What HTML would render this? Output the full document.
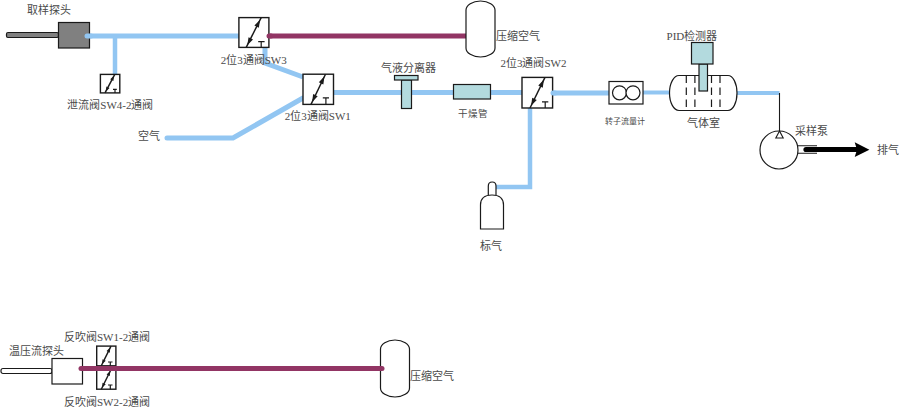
<!DOCTYPE html>
<html lang="zh-CN"><head><meta charset="utf-8">
<style>
html,body{margin:0;padding:0;background:#fff;width:899px;height:408px;overflow:hidden}
svg{display:block}
text{font-family:"Liberation Serif",serif;fill:#4a4a4a}
</style></head><body>
<svg width="899" height="408" viewBox="0 0 899 408">
<path d="M87 36 H238" fill="none" stroke="#92c6f2" stroke-width="5" stroke-linecap="round" stroke-linejoin="miter" />
<path d="M115 36 V74.5" fill="none" stroke="#92c6f2" stroke-width="4.5" stroke-linecap="butt" stroke-linejoin="miter" />
<path d="M265 47 V63 L303 77" fill="none" stroke="#92c6f2" stroke-width="5" stroke-linecap="butt" stroke-linejoin="miter" />
<path d="M167 138 H233 L303 98" fill="none" stroke="#92c6f2" stroke-width="5" stroke-linecap="round" stroke-linejoin="miter" />
<path d="M334 92.5 H522" fill="none" stroke="#92c6f2" stroke-width="5" stroke-linecap="butt" stroke-linejoin="miter" />
<path d="M553 93 H609" fill="none" stroke="#92c6f2" stroke-width="5" stroke-linecap="butt" stroke-linejoin="miter" />
<path d="M643 92.5 H669" fill="none" stroke="#92c6f2" stroke-width="4" stroke-linecap="butt" stroke-linejoin="miter" />
<path d="M737 93 H779.5" fill="none" stroke="#92c6f2" stroke-width="4" stroke-linecap="butt" stroke-linejoin="miter" />
<path d="M530 108 V187 H496" fill="none" stroke="#92c6f2" stroke-width="4.5" stroke-linecap="butt" stroke-linejoin="miter" />
<path d="M270 36 H466" fill="none" stroke="#923564" stroke-width="5" stroke-linecap="butt" stroke-linejoin="miter" />
<path d="M83 368.5 H382" fill="none" stroke="#923564" stroke-width="5" stroke-linecap="round" stroke-linejoin="miter" />
<rect x="6.5" y="32.5" width="52" height="5" rx="1.5" fill="#808080" stroke="#1a1a1a" stroke-width="1.2"/>
<rect x="58.5" y="22.5" width="31" height="25.5" fill="#808080" stroke="#1a1a1a" stroke-width="1.2"/>
<path d="M87 36 H91" fill="none" stroke="#92c6f2" stroke-width="5" stroke-linecap="round" stroke-linejoin="miter" />
<rect x="100.4" y="74.4" width="19.39999999999999" height="18.5" fill="#fff" stroke="#1a1a1a" stroke-width="1.4"/>
<rect x="238.9" y="17.6" width="29.99999999999997" height="29.799999999999997" fill="#fff" stroke="#1a1a1a" stroke-width="1.4"/>
<rect x="303" y="74.2" width="30.5" height="30.200000000000003" fill="#fff" stroke="#1a1a1a" stroke-width="1.4"/>
<rect x="522" y="77.4" width="30.600000000000023" height="30.599999999999994" fill="#fff" stroke="#1a1a1a" stroke-width="1.4"/>
<rect x="96.7" y="346.1" width="19.200000000000003" height="19.69999999999999" fill="#fff" stroke="#1a1a1a" stroke-width="1.4"/>
<rect x="96.7" y="369.5" width="19.200000000000003" height="19.69999999999999" fill="#fff" stroke="#1a1a1a" stroke-width="1.4"/>
<path d="M105 92.9 L114.8 74.4" stroke="#1a1a1a" stroke-width="1.45"/>
<path d="M114.05 75.81 L113.39 80.90 L110.21 79.21 Z" fill="#1a1a1a"/>
<path d="M105.75 91.49 L106.41 86.40 L109.59 88.09 Z" fill="#1a1a1a"/>
<path d="M113 89.4 H116.8 M115 89.4 V92.9" stroke="#1a1a1a" stroke-width="1.2" fill="none"/>
<path d="M246.2 47.4 L261.2 17.6" stroke="#1a1a1a" stroke-width="1.45"/>
<path d="M260.12 19.74 L258.85 27.83 L254.38 25.59 Z" fill="#1a1a1a"/>
<path d="M247.28 45.26 L248.55 37.17 L253.02 39.41 Z" fill="#1a1a1a"/>
<path d="M258.2 41.6 H264.6 M261.2 41.6 V47.4" stroke="#1a1a1a" stroke-width="1.2" fill="none"/>
<path d="M311 104.4 L325.5 74.2" stroke="#1a1a1a" stroke-width="1.45"/>
<path d="M324.46 76.36 L323.34 84.48 L318.83 82.31 Z" fill="#1a1a1a"/>
<path d="M312.04 102.24 L313.16 94.12 L317.67 96.29 Z" fill="#1a1a1a"/>
<path d="M322.8 97.8 H329 M325.9 97.8 V104.4" stroke="#1a1a1a" stroke-width="1.2" fill="none"/>
<path d="M530 108 L545 77.4" stroke="#1a1a1a" stroke-width="1.45"/>
<path d="M543.94 79.56 L542.76 87.66 L538.27 85.46 Z" fill="#1a1a1a"/>
<path d="M531.06 105.84 L532.24 97.74 L536.73 99.94 Z" fill="#1a1a1a"/>
<path d="M542 101.8 H548.3 M545.2 101.8 V108" stroke="#1a1a1a" stroke-width="1.2" fill="none"/>
<path d="M101.3 365.8 L111 346.1" stroke="#1a1a1a" stroke-width="1.45"/>
<path d="M110.29 347.54 L109.79 352.64 L106.56 351.05 Z" fill="#1a1a1a"/>
<path d="M102.01 364.36 L102.51 359.26 L105.74 360.85 Z" fill="#1a1a1a"/>
<path d="M108 362 H112.5 M110.3 362 V365.8" stroke="#1a1a1a" stroke-width="1.2" fill="none"/>
<path d="M101.3 389.2 L111 369.5" stroke="#1a1a1a" stroke-width="1.45"/>
<path d="M110.29 370.94 L109.79 376.04 L106.56 374.45 Z" fill="#1a1a1a"/>
<path d="M102.01 387.76 L102.51 382.66 L105.74 384.25 Z" fill="#1a1a1a"/>
<path d="M108 385 H112.5 M110.3 385 V389.2" stroke="#1a1a1a" stroke-width="1.2" fill="none"/>
<path d="M95 368.5 H118" fill="none" stroke="#923564" stroke-width="5" stroke-linecap="butt" stroke-linejoin="miter" />
<path d="M269 36 H271" fill="none" stroke="#923564" stroke-width="5" stroke-linecap="round" stroke-linejoin="miter" />
<path d="M553 93 H555" fill="none" stroke="#92c6f2" stroke-width="5" stroke-linecap="round" stroke-linejoin="miter" />
<g fill="#fff" stroke="#1a1a1a" stroke-width="1.2">
<path d="M466 10 A14.5 9 0 0 1 495 10 V48 A14.5 9 0 0 1 466 48 Z"/>
<path d="M380.5 349 A14.5 9 0 0 1 409.5 349 V388 A14.5 9 0 0 1 380.5 388 Z"/>
</g>
<path d="M378 368.5 H382" fill="none" stroke="#923564" stroke-width="5" stroke-linecap="round" stroke-linejoin="miter" />
<g fill="#b3dade" stroke="#1a1a1a" stroke-width="1.2">
<rect x="401.5" y="80" width="10" height="28.5"/>
<rect x="394.5" y="75.5" width="23.5" height="4.5"/>
<rect x="453.5" y="84.5" width="37" height="14.5"/>
</g>
<g fill="#fff" stroke="#1a1a1a" stroke-width="1.2">
<rect x="609" y="81.5" width="34" height="22.5"/>
<circle cx="619.5" cy="92.8" r="7"/><circle cx="633" cy="92.8" r="7"/>
</g>
<path d="M679 75.5 H728 A9 17.5 0 0 1 728 110.5 H679 A9.5 17.5 0 0 1 679 75.5 Z" fill="#fff" stroke="#1a1a1a" stroke-width="1.2"/>
<g stroke="#1a1a1a" stroke-width="1.2" stroke-dasharray="7.5 4.5">
<path d="M686.3 75.5 V110"/>
<path d="M694.9 75.5 V110"/>
<path d="M711.5 75.5 V110"/>
<path d="M720 75.5 V110"/>
</g>
<g fill="#b3dade" stroke="#1a1a1a" stroke-width="1.2">
<rect x="699" y="64" width="8.5" height="27"/>
<rect x="691.5" y="42.5" width="21.5" height="21.5"/>
</g>
<path d="M779.5 93 V131" stroke="#1a1a1a" stroke-width="1.1"/>
<circle cx="779" cy="150" r="19" fill="#fff" stroke="#1a1a1a" stroke-width="1.2"/>
<path d="M779.5 131 L775.8 138 H783.2 Z" fill="#fff" stroke="#1a1a1a" stroke-width="1.1"/>
<path d="M797.5 145.7 H817 M797.5 153.2 H817" stroke="#1a1a1a" stroke-width="1.1"/>
<path d="M806 149.5 H857" stroke="#000" stroke-width="5.2" stroke-linecap="round"/>
<path d="M854.7 142.3 L869.4 149.7 L854.7 157 L857 149.7 Z" fill="#000"/>
<g fill="#fff" stroke="#1a1a1a" stroke-width="1.2">
<path d="M488.3 195 V186 Q488.3 182 492.2 182 Q496 182 496 186 V195"/>
<path d="M480.5 229 V205 Q480.5 195 492 195 Q503.5 195 503.5 205 V229 Z"/>
</g>
<g fill="#fff" stroke="#1a1a1a" stroke-width="1.2">
<rect x="1" y="368.5" width="51" height="5" rx="2"/>
<rect x="52" y="358.5" width="30.5" height="25.5"/>
</g>
<path d="M81 368.5 H86" fill="none" stroke="#923564" stroke-width="5" stroke-linecap="round" stroke-linejoin="miter" />
<text x="27" y="13.5" style="font-size:11px" >取样探头</text>
<text x="67.3" y="108.5" style="font-size:11px" >泄流阀SW4-2通阀</text>
<text x="220.7" y="63.5" style="font-size:11px" >2位3通阀SW3</text>
<text x="284.8" y="120" style="font-size:11px" >2位3通阀SW1</text>
<text x="138" y="140" style="font-size:11px" >空气</text>
<text x="496" y="40" style="font-size:11px" >压缩空气</text>
<text x="380.5" y="71.8" style="font-size:11px" >气液分离器</text>
<text x="458" y="116.8" style="font-size:9.5px" >干燥管</text>
<text x="500.4" y="67" style="font-size:11px" >2位3通阀SW2</text>
<text x="605" y="123.5" style="font-size:8px" >转子流量计</text>
<text x="666.6" y="40" style="font-size:11px" >PID检测器</text>
<text x="686.5" y="127" style="font-size:11px" >气体室</text>
<text x="794.5" y="134.5" style="font-size:11px" >采样泵</text>
<text x="877" y="153.5" style="font-size:11px" >排气</text>
<text x="480" y="249.5" style="font-size:11px" >标气</text>
<text x="9" y="354.5" style="font-size:11px" >温压流探头</text>
<text x="64" y="341" style="font-size:11px" >反吹阀SW1-2通阀</text>
<text x="64" y="406" style="font-size:11px" >反吹阀SW2-2通阀</text>
<text x="410" y="379.5" style="font-size:11px" >压缩空气</text>
</svg>
</body></html>
